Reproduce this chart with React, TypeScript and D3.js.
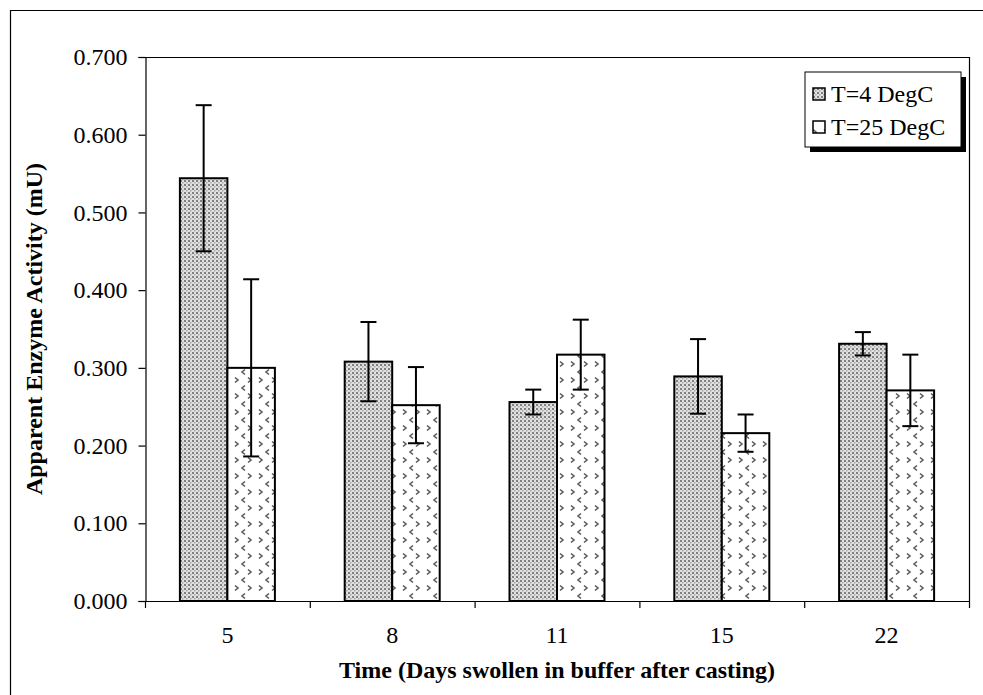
import React, { useEffect, useRef } from 'react';
import * as d3 from 'd3';

// Data
const days = ['5', '8', '11', '15', '22'];
const seriesNames = ['T=4 DegC', 'T=25 DegC'];
const activity4 = [0.544, 0.308, 0.256, 0.289, 0.331];
const error4 = [0.094, 0.051, 0.016, 0.048, 0.015];
const activity25 = [0.300, 0.252, 0.317, 0.216, 0.271];
const error25 = [0.114, 0.049, 0.045, 0.024, 0.046];
const yTicks = [0, 0.1, 0.2, 0.3, 0.4, 0.5, 0.6, 0.7];

function App() {
  const ref = useRef<SVGSVGElement>(null);

  useEffect(() => {
    document.body.style.margin = '0';
    const svg = d3.select(ref.current);
    svg.selectAll('*').remove();

    const font = '"Liberation Serif", "Times New Roman", serif';
    const left = 145, right = 969, top = 57, bottom = 601;

    // patterns
    const defs = svg.append('defs');
    const dots = defs.append('pattern')
      .attr('id', 'dots').attr('patternUnits', 'userSpaceOnUse')
      .attr('width', 4).attr('height', 4);
    dots.append('rect').attr('width', 4).attr('height', 4).attr('fill', '#e0e0e0');
    dots.append('rect').attr('x', 0).attr('y', 0).attr('width', 2).attr('height', 2).attr('fill', '#808080');
    dots.append('rect').attr('x', 2).attr('y', 2).attr('width', 1.5).attr('height', 1.5).attr('fill', '#a8a8a8');

    const chev = defs.append('pattern')
      .attr('id', 'chev').attr('patternUnits', 'userSpaceOnUse')
      .attr('width', 24).attr('height', 16);
    chev.append('rect').attr('width', 24).attr('height', 16).attr('fill', '#fff');
    const chevPaths = [
      'M5,1.5 L2,4 L5,6.5', // <
      'M8,9.5 L11,12 L8,14.5', // >
      'M19,9.5 L22,12 L19,14.5', // >
    ];
    chevPaths.forEach(p => chev.append('path').attr('d', p)
      .attr('fill', 'none').attr('stroke', '#5a5a5a').attr('stroke-width', 1.6));

    // outer frame
    svg.append('path')
      .attr('d', `M10.5,700 L10.5,10.5 L990,10.5`)
      .attr('fill', 'none').attr('stroke', '#000').attr('stroke-width', 1.2);

    const x0 = d3.scaleBand().domain(days).range([left, right]);
    const x1 = d3.scaleBand().domain(seriesNames)
      .range([x0.bandwidth() / 2 - 47.5, x0.bandwidth() / 2 + 47.5]);
    const y = d3.scaleLinear().domain([0, 0.7]).range([bottom, top]);

    // plot area border (top and right)
    svg.append('path')
      .attr('d', `M${left},${top + 0.5} L${right + 0.5},${top + 0.5} L${right + 0.5},${bottom}`)
      .attr('fill', 'none').attr('stroke', '#000').attr('stroke-width', 1.2);

    // y axis
    const yAxis = svg.append('g')
      .attr('transform', `translate(${left + 0.5},0)`)
      .call(d3.axisLeft(y).tickValues(yTicks).tickFormat(d3.format('.3f')).tickSize(7).tickPadding(11));
    yAxis.select('.domain').attr('stroke-width', 1.2);
    yAxis.selectAll('line').attr('stroke-width', 1.2);
    yAxis.selectAll('text').attr('font-family', font).attr('font-size', 24).attr('fill', '#000');

    // x axis
    const xAxis = svg.append('g')
      .attr('transform', `translate(0,${bottom + 0.5})`)
      .call(d3.axisBottom(x0).tickSize(0).tickPadding(24));
    xAxis.select('.domain').attr('stroke-width', 1.2).attr('d', `M${left},0H${right + 1}`);
    xAxis.selectAll('text').attr('font-family', font).attr('font-size', 24).attr('fill', '#000');
    const bounds = [...days.map(d => x0(d) as number), right];
    svg.append('g').selectAll('line').data(bounds).enter().append('line')
      .attr('x1', d => d + 0.5).attr('x2', d => d + 0.5)
      .attr('y1', bottom).attr('y2', bottom + 7)
      .attr('stroke', '#000').attr('stroke-width', 1.2);

    // bars
    const rows = days.flatMap((d, i) => [
      { day: d, s: seriesNames[0], v: activity4[i], e: error4[i], fill: 'url(#dots)' },
      { day: d, s: seriesNames[1], v: activity25[i], e: error25[i], fill: 'url(#chev)' },
    ]);
    const g = svg.append('g');
    g.selectAll('rect').data(rows).enter().append('rect')
      .attr('x', d => (x0(d.day) as number) + (x1(d.s) as number))
      .attr('y', d => y(d.v))
      .attr('width', x1.bandwidth())
      .attr('height', d => bottom - y(d.v))
      .attr('fill', d => d.fill)
      .attr('stroke', '#000').attr('stroke-width', 2);

    // error bars
    const eb = svg.append('g').selectAll('g').data(rows).enter().append('g');
    const cx = d => (x0(d.day) as number) + (x1(d.s) as number) + x1.bandwidth() / 2;
    eb.append('line')
      .attr('x1', cx).attr('x2', cx)
      .attr('y1', d => y(d.v + d.e)).attr('y2', d => y(d.v - d.e))
      .attr('stroke', '#000').attr('stroke-width', 2);
    [1, -1].forEach(sign => {
      eb.append('line')
        .attr('x1', d => cx(d) - 8).attr('x2', d => cx(d) + 8)
        .attr('y1', d => y(d.v + sign * d.e)).attr('y2', d => y(d.v + sign * d.e))
        .attr('stroke', '#000').attr('stroke-width', 2);
    });

    // axis titles
    svg.append('text')
      .attr('transform', `translate(42,${(top + bottom) / 2}) rotate(-90)`)
      .attr('text-anchor', 'middle')
      .attr('font-family', font).attr('font-size', 24).attr('font-weight', 'bold')
      .text('Apparent Enzyme Activity (mU)');
    svg.append('text')
      .attr('x', (left + right) / 2).attr('y', 678)
      .attr('text-anchor', 'middle')
      .attr('font-family', font).attr('font-size', 24).attr('font-weight', 'bold')
      .text('Time (Days swollen in buffer after casting)');

    // legend
    const lg = svg.append('g').attr('transform', 'translate(805,72)');
    lg.append('rect').attr('x', 5).attr('y', 5).attr('width', 156).attr('height', 75).attr('fill', '#000');
    lg.append('rect').attr('x', 0).attr('y', 0).attr('width', 156).attr('height', 75)
      .attr('fill', '#fff').attr('stroke', '#000').attr('stroke-width', 1);
    const fills = ['url(#dots)', 'url(#chev)'];
    seriesNames.forEach((name, i) => {
      const yy = 22 + i * 33;
      lg.append('rect').attr('x', 8).attr('y', yy - 6).attr('width', 12).attr('height', 12)
        .attr('fill', fills[i]).attr('stroke', '#000').attr('stroke-width', 1.5);
      lg.append('text').attr('x', 26).attr('y', yy + 8)
        .attr('font-family', font).attr('font-size', 24).text(name);
    });
  }, []);

  return <svg ref={ref} width={983} height={695} style={{ display: 'block', background: '#fff' }}></svg>;
}

export default App;
